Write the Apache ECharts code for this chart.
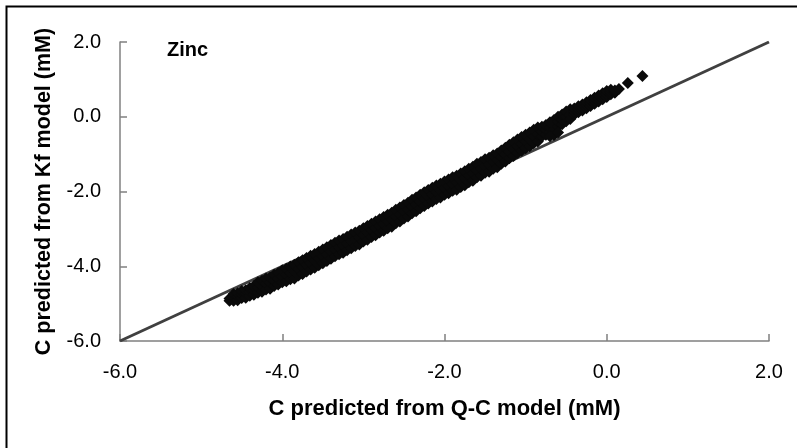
<!DOCTYPE html>
<html>
<head>
<meta charset="utf-8">
<script src="https://cdn.jsdelivr.net/npm/echarts@6/dist/echarts.min.js"></script>
<style>
html,body{margin:0;padding:0;background:#fff;}
#chart{width:797px;height:448px;}
</style>
</head>
<body>
<div id="chart"></div>
<script>
// Axis ticks
const xTicks = [-6.0, -4.0, -2.0, 0.0, 2.0];
const yTicks = [-6.0, -4.0, -2.0, 0.0, 2.0];
// 1:1 reference line
const lineX = [-6.0, 2.0];
const lineY = [-6.0, 2.0];
// C predicted from Q-C model (mM): column positions of the point cloud
const qcCol = [
-4.65,-4.60,-4.55,-4.50,-4.45,-4.40,-4.35,-4.30,-4.25,-4.20,
-4.15,-4.10,-4.05,-4.00,-3.95,-3.90,-3.85,-3.80,-3.75,-3.70,
-3.65,-3.60,-3.55,-3.50,-3.45,-3.40,-3.35,-3.30,-3.25,-3.20,
-3.15,-3.10,-3.05,-3.00,-2.95,-2.90,-2.85,-2.80,-2.75,-2.70,
-2.65,-2.60,-2.55,-2.50,-2.45,-2.40,-2.35,-2.30,-2.25,-2.20,
-2.15,-2.10,-2.05,-2.00,-1.95,-1.90,-1.85,-1.80,-1.75,-1.70,
-1.65,-1.60,-1.55,-1.50,-1.45,-1.40,-1.35,-1.30,-1.25,-1.20,
-1.15,-1.10,-1.05,-1.00,-0.95,-0.90,-0.85,-0.80,-0.75,-0.70,
-0.65,-0.60,-0.55,-0.50,-0.45,-0.40,-0.35,-0.30,-0.25,-0.20,
-0.15,-0.10,-0.05,0.00,0.05,0.10
];
// C predicted from Kf model (mM): lower, middle, upper points of each column
const kfLow = [
-4.92,-4.92,-4.91,-4.85,-4.84,-4.79,-4.76,-4.71,-4.68,-4.62,
-4.60,-4.53,-4.49,-4.43,-4.40,-4.35,-4.33,-4.25,-4.21,-4.14,
-4.09,-4.04,-3.97,-3.92,-3.86,-3.80,-3.73,-3.68,-3.64,-3.57,
-3.52,-3.46,-3.42,-3.34,-3.29,-3.22,-3.17,-3.10,-3.05,-2.98,
-2.94,-2.85,-2.80,-2.72,-2.67,-2.58,-2.53,-2.45,-2.39,-2.32,
-2.27,-2.20,-2.16,-2.09,-2.05,-1.98,-1.95,-1.88,-1.83,-1.75,
-1.71,-1.62,-1.58,-1.50,-1.47,-1.39,-1.35,-1.26,-1.20,-1.11,
-1.05,-0.97,-0.91,-0.84,-0.79,-0.71,-0.66,-0.53,-0.48,-0.41,
-0.35,-0.26,-0.20,-0.12,-0.06,0.06,0.12,0.17,0.23,0.29,
0.35,0.41,0.47,0.53,0.60,0.64
];
const kfMid = [
-4.86,-4.83,-4.81,-4.75,-4.73,-4.68,-4.64,-4.57,-4.53,-4.47,
-4.44,-4.38,-4.33,-4.27,-4.23,-4.18,-4.14,-4.07,-4.02,-3.96,
-3.91,-3.85,-3.79,-3.73,-3.68,-3.61,-3.55,-3.49,-3.45,-3.39,
-3.33,-3.28,-3.23,-3.16,-3.10,-3.04,-2.98,-2.92,-2.86,-2.80,
-2.75,-2.67,-2.61,-2.54,-2.48,-2.40,-2.34,-2.27,-2.20,-2.14,
-2.08,-2.02,-1.97,-1.91,-1.86,-1.80,-1.76,-1.70,-1.64,-1.57,
-1.52,-1.44,-1.39,-1.32,-1.28,-1.21,-1.16,-1.08,-1.01,-0.93,
-0.86,-0.79,-0.72,-0.66,-0.60,-0.53,-0.47,-0.40,-0.35,-0.28,
-0.22,-0.13,-0.07,0.01,0.07,0.14,0.20,0.25,0.31,0.37,
0.43,0.49,0.55,0.61,0.66,0.67
];
const kfHigh = [
null,-4.74,-4.72,-4.66,-4.64,-4.58,-4.53,-4.43,-4.39,-4.33,
-4.30,-4.23,-4.18,-4.11,-4.07,-4.01,-3.96,-3.89,-3.84,-3.78,
-3.72,-3.67,-3.61,-3.55,-3.49,-3.43,-3.37,-3.31,-3.27,-3.21,
-3.15,-3.10,-3.05,-2.98,-2.92,-2.86,-2.80,-2.74,-2.68,-2.62,
-2.57,-2.49,-2.43,-2.36,-2.30,-2.22,-2.16,-2.09,-2.02,-1.96,
-1.90,-1.84,-1.79,-1.73,-1.68,-1.62,-1.58,-1.52,-1.46,-1.39,
-1.34,-1.26,-1.21,-1.14,-1.10,-1.03,-0.98,-0.90,-0.83,-0.75,
-0.68,-0.61,-0.54,-0.48,-0.42,-0.35,-0.29,-0.27,-0.22,-0.15,
-0.09,0.00,0.06,0.14,0.20,0.22,0.28,0.33,0.39,0.45,
0.51,0.57,0.63,0.69,0.72,0.70
];
// isolated points
const extraQC = [-0.70, -0.65, -0.60, 0.15, 0.26, 0.44];
const extraKf = [-0.52, -0.49, -0.42, 0.74, 0.90, 1.09];

const points = [];
qcCol.forEach((x, i) => {
  [kfLow[i], kfMid[i], kfHigh[i]].forEach(y => { if (y !== null) points.push([x, y]); });
});
extraQC.forEach((x, i) => points.push([x, extraKf[i]]));
const linePts = lineX.map((x, i) => [x, lineY[i]]);

const FONT = '"Liberation Sans", Arial, sans-serif';
const chart = echarts.init(document.getElementById('chart'), null, {renderer: 'canvas'});
const fmt = v => v.toFixed(1);

chart.setOption({
  backgroundColor: '#ffffff',
  animation: false,
  grid: {left: 120, right: 28, top: 42, bottom: 107, containLabel: false},
  xAxis: {
    type: 'value', min: xTicks[0], max: xTicks[xTicks.length - 1], interval: 2,
    name: 'C predicted from Q-C model (mM)', nameLocation: 'middle', nameGap: 57,
    nameTextStyle: {fontFamily: FONT, fontSize: 22, fontWeight: 'bold', color: '#000'},
    axisLine: {show: true, onZero: false, lineStyle: {color: '#808080', width: 1.5}},
    axisTick: {show: true, inside: true, length: 7, lineStyle: {color: '#808080', width: 1.5}},
    axisLabel: {formatter: fmt, fontFamily: FONT, fontSize: 20, color: '#000', margin: 21},
    splitLine: {show: false}
  },
  yAxis: {
    type: 'value', min: yTicks[0], max: yTicks[yTicks.length - 1], interval: 2,
    name: 'C predicted from Kf model (mM)', nameLocation: 'middle', nameGap: 65,
    nameTextStyle: {fontFamily: FONT, fontSize: 21.5, fontWeight: 'bold', color: '#000'},
    axisLine: {show: true, onZero: false, lineStyle: {color: '#808080', width: 1.5}},
    axisTick: {show: true, inside: true, length: 7, lineStyle: {color: '#808080', width: 1.5}},
    axisLabel: {formatter: fmt, fontFamily: FONT, fontSize: 20, color: '#000', margin: 19},
    splitLine: {show: false}
  },
  graphic: [
    {type: 'rect', z: 100, silent: true,
     shape: {x: 6.5, y: 6.5, width: 1000, height: 1000},
     style: {fill: 'none', stroke: '#000', lineWidth: 2}},
    {type: 'text', z: 100, x: 167, y: 50,
     style: {text: 'Zinc', font: 'bold 20px ' + FONT, fill: '#000', verticalAlign: 'middle'}}
  ],
  series: [
    {type: 'line', data: linePts, showSymbol: false, symbol: 'none', z: 2,
     lineStyle: {color: '#404040', width: 3}},
    {type: 'scatter', data: points, symbol: 'diamond', symbolSize: 12, z: 3,
     itemStyle: {color: '#0a0a0a', opacity: 1}}
  ]
});
</script>
</body>
</html>
